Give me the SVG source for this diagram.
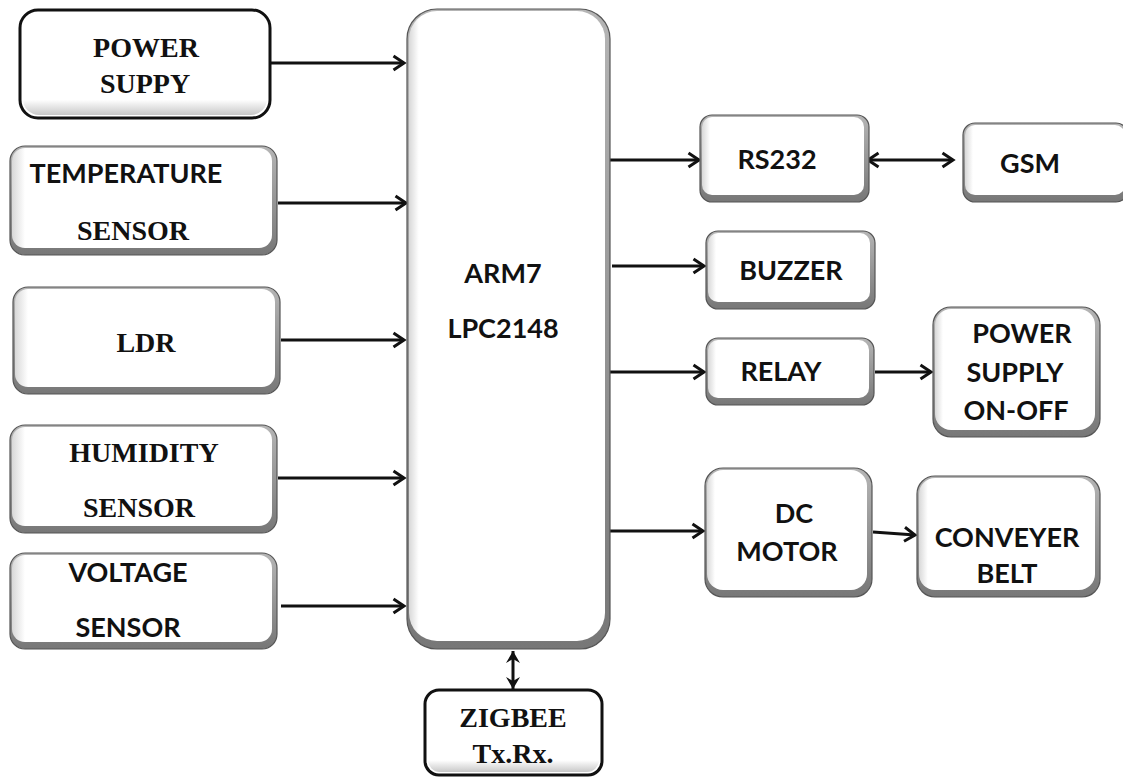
<svg xmlns="http://www.w3.org/2000/svg" width="1123" height="780" viewBox="0 0 1123 780">
<style>
.bo{fill:url(#band);stroke:#555;stroke-width:1.2}
.bi{fill:url(#face)}
.bk{fill:#fff;stroke:#111;stroke-width:3}
.bks{fill:url(#face2)}
.s{font-family:Lato,"Open Sans","Liberation Sans",sans-serif;font-weight:700;font-size:27px;fill:#111;text-anchor:middle}
.r{font-family:"Liberation Serif","DejaVu Serif",serif;font-weight:700;font-size:28px;fill:#111;text-anchor:middle}
.c{fill:none;stroke:#111;stroke-width:3}
</style>
<defs>
<linearGradient id="band" x1="0" y1="0" x2="0" y2="1">
<stop offset="0" stop-color="#b5b5b5"/>
<stop offset="1" stop-color="#777"/>
</linearGradient>
<linearGradient id="face" x1="0" y1="0" x2="1" y2="0">
<stop offset="0" stop-color="#d8d8d8"/>
<stop offset="0.05" stop-color="#ffffff"/>
<stop offset="1" stop-color="#ffffff"/>
</linearGradient>
<linearGradient id="face2" x1="0" y1="0" x2="0" y2="1">
<stop offset="0" stop-color="#ffffff"/>
<stop offset="0.85" stop-color="#ffffff"/>
<stop offset="1" stop-color="#c8c8c8"/>
</linearGradient>
<marker id="ah" markerUnits="userSpaceOnUse" markerWidth="14" markerHeight="16" refX="11" refY="7" orient="auto-start-reverse" overflow="visible">
<path d="M0.5,0 L11,7 L0.5,14" fill="none" stroke="#111" stroke-width="3" stroke-linejoin="miter"/>
</marker>
<marker id="tri" markerUnits="userSpaceOnUse" markerWidth="16" markerHeight="16" refX="12" refY="7" orient="auto-start-reverse" overflow="visible">
<path d="M0,0 L12,7 L0,14 L4,7 Z" fill="#111"/>
</marker>
</defs>

<g id="connectors">
<line class="c" x1="271" y1="63" x2="404" y2="63" marker-end="url(#ah)"/>
<line class="c" x1="278" y1="203" x2="406" y2="203" marker-end="url(#ah)"/>
<line class="c" x1="281" y1="340" x2="404" y2="340" marker-end="url(#ah)"/>
<line class="c" x1="278" y1="478" x2="404" y2="478" marker-end="url(#ah)"/>
<line class="c" x1="281" y1="606" x2="404" y2="606" marker-end="url(#ah)"/>
<line class="c" x1="608" y1="160" x2="699" y2="160" marker-end="url(#ah)"/>
<line class="c" x1="612" y1="266" x2="704" y2="266" marker-end="url(#ah)"/>
<line class="c" x1="600" y1="372" x2="704" y2="372" marker-end="url(#ah)"/>
<line class="c" x1="600" y1="531" x2="703" y2="531" marker-end="url(#ah)"/>
<line class="c" x1="868" y1="160" x2="953" y2="160" marker-start="url(#ah)" marker-end="url(#ah)"/>
<line class="c" x1="875" y1="372" x2="931" y2="372" marker-end="url(#ah)"/>
<line class="c" x1="873" y1="532" x2="915" y2="535" marker-end="url(#ah)"/>
<line class="c" x1="513" y1="651" x2="513" y2="689" marker-start="url(#tri)" marker-end="url(#tri)"/>
</g>

<g id="power-supply">
<rect class="bk" x="20" y="10" width="250" height="108" rx="18"/>
<rect class="bks" x="23" y="13" width="244" height="102" rx="16"/>
<text class="r" x="146" y="57">POWER</text>
<text class="r" x="145" y="93">SUPPY</text>
</g>

<g id="temperature-sensor">
<rect class="bo" x="10" y="146" width="267" height="109" rx="15"/>
<rect class="bi" x="12" y="148" width="260" height="100" rx="13"/>
<text class="s" x="126" y="183">TEMPERATURE</text>
<text class="r" x="133" y="240">SENSOR</text>
</g>

<g id="ldr">
<rect class="bo" x="13" y="287" width="267" height="107" rx="15"/>
<rect class="bi" x="15" y="289" width="260" height="98" rx="13"/>
<text class="r" x="146" y="352">LDR</text>
</g>

<g id="humidity-sensor">
<rect class="bo" x="10" y="425" width="267" height="108" rx="15"/>
<rect class="bi" x="12" y="427" width="260" height="99" rx="13"/>
<text class="r" x="144" y="462">HUMIDITY</text>
<text class="r" x="139" y="517">SENSOR</text>
</g>

<g id="voltage-sensor">
<rect class="bo" x="10" y="553" width="267" height="96" rx="15"/>
<rect class="bi" x="12" y="555" width="260" height="87" rx="13"/>
<text class="s" x="128" y="582">VOLTAGE</text>
<text class="s" x="128" y="637">SENSOR</text>
</g>

<g id="arm7">
<rect class="bo" x="407" y="9" width="203" height="640" rx="30"/>
<rect class="bi" x="409" y="11" width="196" height="630" rx="28"/>
<text class="s" x="503" y="283">ARM7</text>
<text class="s" x="503" y="338">LPC2148</text>
</g>

<g id="zigbee">
<rect class="bk" x="425" y="690" width="177" height="85" rx="14"/>
<rect class="bks" x="428" y="693" width="171" height="79" rx="12"/>
<text class="r" x="513" y="727">ZIGBEE</text>
<text class="r" x="513" y="763">Tx.Rx.</text>
</g>

<g id="rs232">
<rect class="bo" x="700" y="115" width="169" height="87" rx="12"/>
<rect class="bi" x="702" y="117" width="162" height="78" rx="10"/>
<text class="s" x="777" y="169">RS232</text>
</g>

<g id="gsm">
<rect class="bo" x="963" y="123" width="165" height="79" rx="12"/>
<rect class="bi" x="965" y="125" width="160" height="70" rx="10"/>
<text class="s" x="1030" y="173">GSM</text>
</g>

<g id="buzzer">
<rect class="bo" x="706" y="231" width="169" height="78" rx="12"/>
<rect class="bi" x="708" y="233" width="162" height="69" rx="10"/>
<text class="s" x="791" y="280">BUZZER</text>
</g>

<g id="relay">
<rect class="bo" x="706" y="338" width="168" height="67" rx="12"/>
<rect class="bi" x="708" y="340" width="161" height="58" rx="10"/>
<text class="s" x="781" y="381">RELAY</text>
</g>

<g id="power-supply-on-off">
<rect class="bo" x="933" y="307" width="167" height="130" rx="18"/>
<rect class="bi" x="935" y="309" width="160" height="121" rx="16"/>
<text class="s" x="1022" y="343">POWER</text>
<text class="s" x="1015" y="382">SUPPLY</text>
<text class="s" x="1016" y="420">ON-OFF</text>
</g>

<g id="dc-motor">
<rect class="bo" x="705" y="468" width="167" height="129" rx="18"/>
<rect class="bi" x="707" y="470" width="160" height="120" rx="16"/>
<text class="s" x="794" y="523">DC</text>
<text class="s" x="787" y="561">MOTOR</text>
</g>

<g id="conveyer-belt">
<rect class="bo" x="917" y="476" width="183" height="121" rx="18"/>
<rect class="bi" x="919" y="478" width="176" height="112" rx="16"/>
<text class="s" x="1007" y="547">CONVEYER</text>
<text class="s" x="1007" y="583">BELT</text>
</g>
</svg>
